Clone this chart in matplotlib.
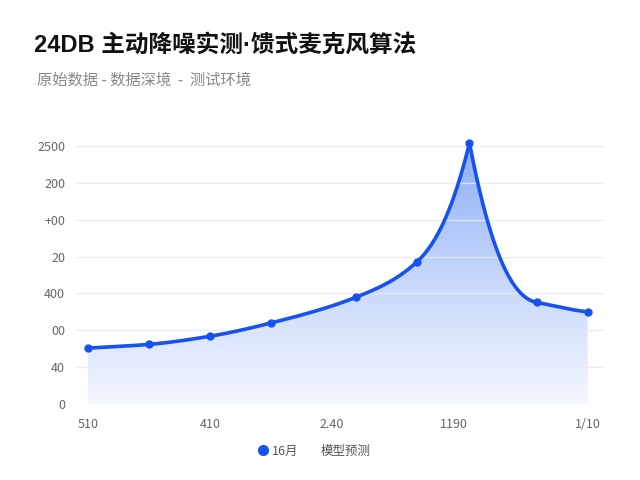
import numpy as np
import matplotlib
matplotlib.use('Agg')
import matplotlib.pyplot as plt
from matplotlib.lines import Line2D
from matplotlib.colors import LinearSegmentedColormap

plt.rcParams['font.family'] = ['Noto Sans CJK SC', 'DejaVu Sans']

# данные
x_pos = [0, 0.5, 1.0, 1.5, 2.2, 2.7, 3.13, 3.68, 4.1]
values = [76, 81, 92, 110, 145, 193, 354, 138, 125]
x_ticks = [0, 1, 2, 3, 4.1]
x_labels = ['510', '410', '2.40', '1190', '1/10']
y_ticks = [0, 50, 100, 150, 200, 250, 300, 350]
y_labels = ['0', '40', '00', '400', '20', '+00', '200', '2500']
peak_label = '+ 6R'
title = '24DB 主动降噪实测·馈式麦克风算法'
subtitle = '原始数据 - 数据深境  -  测试环境'
legend_labels = ['16月', '模型预测']

BLUE = '#1652f0'


def smooth_curve(xs, ys, n=60):
    # кубический Эрмит, в пике - излом
    xs = np.asarray(xs, float)
    ys = np.asarray(ys, float)
    h = np.diff(xs)
    sec = np.diff(ys) / h
    peak = int(np.argmax(ys))
    dl = np.zeros(len(xs))
    dr = np.zeros(len(xs))
    for i in range(len(xs)):
        if i == 0:
            dl[i] = dr[i] = sec[0]
        elif i == len(xs) - 1:
            dl[i] = dr[i] = sec[-1] * 0.6
        elif i == peak:
            dl[i] = sec[i - 1] * 1.8
            dr[i] = sec[i] * 2.2
        elif i == peak + 1:
            dl[i] = dr[i] = sec[i]
        else:
            a, b = sec[i - 1], sec[i]
            d = 2 * a * b / (a + b) if a * b > 0 else 0.0
            dl[i] = dr[i] = d
    out_x, out_y = [], []
    for i in range(len(xs) - 1):
        t = np.linspace(0, 1, n)
        h00 = 2 * t**3 - 3 * t**2 + 1
        h10 = t**3 - 2 * t**2 + t
        h01 = -2 * t**3 + 3 * t**2
        h11 = t**3 - t**2
        yy = h00 * ys[i] + h10 * h[i] * dr[i] + h01 * ys[i + 1] + h11 * h[i] * dl[i + 1]
        out_x.extend(xs[i] + t * h[i])
        out_y.extend(yy)
    return np.array(out_x), np.array(out_y)


fig = plt.figure(figsize=(6.4, 4.8), dpi=100)
fig.patch.set_facecolor('white')
ax = fig.add_axes([0.117, 0.158, 0.828, 0.538])

sx, sy = smooth_curve(x_pos, values)

# градиентная заливка
poly = ax.fill_between(sx, 0, sy, color='none', lw=0)
cmap = LinearSegmentedColormap.from_list('g', ['#f4f7ff', '#c4d6fb', '#8cadf7'])
grad = np.linspace(0, 1, 256).reshape(-1, 1)
img = ax.imshow(grad, cmap=cmap, aspect='auto', origin='lower',
                extent=[sx[0] - 0.03, sx[-1], 0, 354], zorder=1)
img.set_clip_path(poly.get_paths()[0], transform=ax.transData)
ax.set_xlim(-0.107, 4.24)
ax.set_ylim(0, 350)

ax.plot(sx, sy, color=BLUE, lw=2.6, zorder=3, clip_on=False, solid_capstyle='round')
ax.plot(x_pos, values, 'o', color=BLUE, ms=5, zorder=4, clip_on=False)

pk = int(np.argmax(values))
ax.annotate(peak_label, (x_pos[pk], values[pk]), xytext=(10, 12),
            textcoords='offset points', ha='center', fontsize=9, color='#333333')

ax.set_yticks(y_ticks)
ax.set_yticklabels(y_labels)
ax.set_xticks(x_ticks)
ax.set_xticklabels(x_labels)
ax.tick_params(axis='both', length=0, labelsize=9, colors='#666666')
ax.tick_params(axis='y', pad=7)
ax.tick_params(axis='x', pad=10)
for yt in y_ticks:
    ax.axhline(yt, color='#e6e9f0', lw=1, alpha=0.8, zorder=2)
for s in ax.spines.values():
    s.set_visible(False)

fig.text(0.053, 0.905, title, fontsize=17, fontweight='bold', color='#111111',
         va='center', family=['Liberation Sans', 'Noto Sans CJK SC'])
fig.text(0.058, 0.832, subtitle, fontsize=11, color='#888888', va='center')

handles = [Line2D([], [], marker='o', color=BLUE, ls='none', ms=7),
           Line2D([], [], ls='none')]
fig.legend(handles, legend_labels, loc='center', bbox_to_anchor=(0.49, 0.06),
           ncol=2, frameon=False, fontsize=9, labelcolor='#555555',
           handletextpad=0.2, columnspacing=0.6, handlelength=1.0)

fig.savefig('out.png', dpi=100, facecolor='white')
